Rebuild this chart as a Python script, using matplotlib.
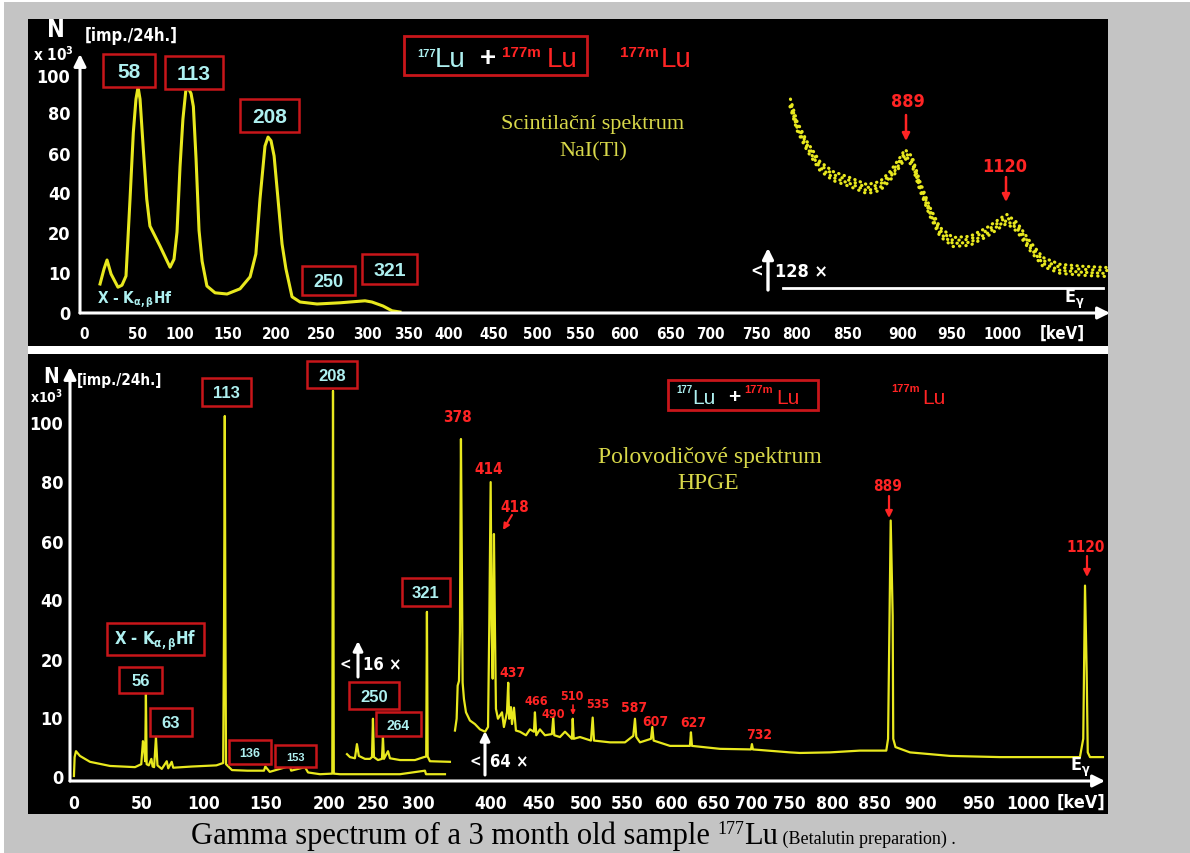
import numpy as np
import matplotlib
matplotlib.use("Agg")
import matplotlib.pyplot as plt
from matplotlib.patches import Rectangle, FancyArrowPatch
from matplotlib.lines import Line2D
from matplotlib.ticker import NullLocator
from matplotlib import transforms

plt.rcParams["font.family"] = ["DejaVu Sans"]
plt.rcParams["font.weight"] = "bold"
plt.rcParams["font.stretch"] = "condensed"
plt.rcParams["mathtext.fontset"] = "custom"
plt.rcParams["mathtext.rm"] = "DejaVu Sans:bold"
plt.rcParams["mathtext.it"] = "DejaVu Sans:bold"
plt.rcParams["mathtext.bf"] = "DejaVu Sans:bold"

# ---- data (energy in keV, counts in 10^3 imp./24h) ----
nai_ticks_kev = [0, 50, 100, 150, 200, 250, 300, 350, 400, 450, 500, 550,
                 600, 650, 700, 750, 800, 850, 900, 950, 1000]
hpge_ticks_kev = [0, 50, 100, 150, 200, 250, 300, 400, 450, 500, 550,
                  600, 650, 700, 750, 800, 850, 900, 950, 1000]
count_ticks = [0, 10, 20, 40, 60, 80, 100]

# scintillation spectrum NaI(Tl)
nai_e = [15.1, 18.9, 21.7, 25.5, 32, 35.8, 39.6, 43.4, 46.5, 49, 51.2, 53.5,
         57.3, 61.3, 65, 76.7, 88.4, 93, 96.5, 100, 103, 106, 108.6, 111.5,
         113.9, 116.7, 119.8, 123, 128, 136.5, 149, 162.5, 173, 179, 183.3,
         188.5, 191.7, 194.8, 198, 202.2, 206.7, 211, 217.8, 226.7, 245.6,
         270.6, 297.8, 306, 319.5, 330.5, 340.2]
nai_n = [7.0, 10.8, 13.0, 9.5, 6.2, 6.7, 9.0, 36.5, 70, 87, 93.5, 87,
         62, 36.5, 23, 16.5, 11.2, 13.2, 20, 53, 76.5, 91.5, 93, 90,
         83, 57, 20.8, 12.7, 6.5, 4.8, 4.5, 5.8, 8.8, 14.5, 36.5,
         63.4, 67.8, 66, 58.5, 36.5, 17, 10.8, 3.8, 2.5, 2.0,
         2.3, 2.8, 2.5, 1.5, 0.3, 0.0]
# high energy part, magnified 128x
nai_x128_e = [792.5, 801, 810.8, 823.5, 836.3, 852.7, 867.9, 879.5, 888.4,
              897.3, 902, 909.2, 917.3, 927.6, 937.8, 951, 968, 985, 1001,
              1005, 1015, 1028, 1041, 1058, 1081, 1105]
nai_x128_n = [85.4, 73.2, 63.4, 53.3, 48.2, 45.1, 41.5, 43.1, 48.2,
              55.4, 59.5, 56, 43, 30, 20, 17.5, 17.8, 20, 25.5,
              26.5, 22.5, 16.5, 12.5, 10.8, 10.3, 10.0]

# semiconductor spectrum HPGe
hpge_e = [0, 0.5, 1.5, 4.4, 11.8, 26.5, 44.9, 49.5, 50.8, 51.6, 52.6, 53.2,
          53.8, 55.5, 57.6, 58.6, 59.8, 61.3, 62.5, 66, 70, 71.2, 74, 75.2,
          90, 110, 115.5, 116.2, 116.8, 117.3, 117.8, 122.6, 135, 148.4,
          149.5, 153, 169, 170, 181, 183.4, 192.9, 203.8, 204.3, 204.6,
          205.0, 205.5, 212.5, 280, 309.6, 311, 337]
hpge_n = [0, 3.2, 4.2, 3.4, 2.4, 1.7, 1.5, 2.0, 5.9, 5.0, 2.5, 13.9,
          2.0, 1.8, 2.9, 1.6, 1.5, 6.6, 1.8, 1.2, 2.5, 1.3, 2.4, 1.4,
          1.6, 1.8, 2.2, 32, 102, 32, 2.0, 1.0, 0.9, 0.9,
          1.6, 0.7, 1.7, 0.9, 1.5, 0.6, 0.3, 0.4, 65, 110.5,
          65, 0.4, 0.3, 0.3, 0.9, 0.3, 0.3]
# 16x magnified part
hpge_x16_e = [220.5, 223.9, 229.5, 231.8, 234, 240.9, 246.6, 248.9, 250, 251.1,
              255.6, 260, 261.1, 262.2, 266.7, 268.9, 280, 296.7, 308.2, 311.3,
              312.3, 313.3, 316.4, 343.8]
hpge_x16_n = [3.7, 3.2, 3.0, 5.4, 3.4, 2.9, 2.9, 3.2, 9.7, 3.2,
              2.7, 2.9, 6.6, 2.9, 4.2, 3.0, 2.7, 2.7, 3.2, 3.3,
              35.7, 3.3, 2.5, 2.4]
# 64x magnified part
hpge_x64_e = [350.7, 353, 354.4, 356.2, 357.5, 358.9, 360.3, 361.2, 363, 365.8,
              371.2, 378, 385, 392, 396, 397.7, 399.6, 400.7, 401.8, 403.1,
              404.2, 405.2, 407.3, 411.5, 413.5, 416.7, 418, 419, 420.8, 421.9,
              424, 426, 430.2, 436.5, 440.6, 444.8, 445.8, 447.2, 451, 456.4,
              463.8, 465.2, 466.3, 472.3, 477.7, 485.1, 485.9, 487, 493.6, 506.1,
              508.2, 509.8, 529.3, 547.6, 557.2, 559.1, 560.6, 564.8, 577.3, 578.8,
              580.3, 598.9, 622.6, 623.8, 625, 659.2, 700, 701.3, 702.6, 751.2,
              762.8, 797.7, 833.3, 863.1, 865, 867.8, 869.9, 870.5, 872.9, 888.3,
              925, 971.4, 1053, 1056.4, 1058.2, 1059.9, 1061, 1063.3, 1076.5]
hpge_x64_n = [7.7, 9.7, 15.4, 16.2, 29, 94.2, 46.9, 15.9, 13.1, 10.8,
              9.4, 8.8, 7.9, 7.5, 8.3, 31.1, 79.6, 31, 16.6, 62.3,
              28.9, 11.4, 9.7, 10.8, 8.3, 10.8, 15.9, 9.7, 11.7, 8.8,
              11.6, 7.7, 7.5, 6.9, 7.9, 7.5, 10.8, 6.9, 7.9, 6.9,
              7.1, 9.9, 6.9, 6.6, 7.5, 6.3, 9.7, 6.3, 6.6, 6.0,
              9.9, 6.0, 5.7, 5.7, 6.8, 9.7, 6.6, 5.7, 6.3, 8.3,
              6.0, 5.1, 5.1, 7.4, 5.1, 4.6, 4.5, 5.4, 4.5, 4.0,
              3.9, 4.0, 4.3, 4.3, 6.3, 66.8, 34.4, 6.3, 4.9, 4.0,
              3.4, 3.2, 3.2, 6.3, 44.6, 17.8, 4.0, 3.2, 3.2]

# ---- the axes of the original are hand drawn and not linear: knots of the warp ----
nai_x_knots = ([-50] + nai_ticks_kev + [1200],
               [31, 84, 137, 180, 228, 276, 321, 367, 408, 449, 494, 537, 580,
                624, 670, 710, 756, 796, 847, 903, 952, 1002, 1202])
nai_y_knots = ([-10, 0, 10, 20, 40, 60, 80, 100, 140],
               [-40, 0, 40, 80, 120, 159, 200, 237, 311])
hpge_x_knots = ([-50] + hpge_ticks_kev + [1200],
                [6, 74, 142, 204, 266, 329, 373, 418, 491, 539, 586, 627, 671,
                 713, 751, 789, 832, 874, 921, 979, 1028, 1224])
hpge_y_knots = ([-10, 0, 10, 20, 40, 60, 80, 100, 140],
                [-59, 0, 59, 117, 177, 235, 295, 354, 472])

YEL = "#e8e81e"
RED_BOX = "#c8161a"
RED_TXT = "#ff2424"
CYAN = "#aef0f0"
SERIF_YEL = "#d8d84a"
GRAY = "#c4c4c4"
SANS = ["Liberation Sans", "DejaVu Sans"]
SERIF = ["Liberation Serif", "DejaVu Serif"]

W, H = 1190, 854
fig = plt.figure(figsize=(W / 100, H / 100), dpi=100, facecolor=GRAY)


def warp(knots):
    v, p = np.asarray(knots[0], float), np.asarray(knots[1], float)
    return (lambda x: np.interp(x, v, p), lambda x: np.interp(x, p, v))


def prect(x0, y0, x1, y1, fc, ec="none", lw=0, z=-1):
    fig.add_artist(Rectangle((x0 / W, 1 - y1 / H), (x1 - x0) / W, (y1 - y0) / H,
                             transform=fig.transFigure, fc=fc, ec=ec, lw=lw, zorder=z))


def ptext(x, y, s, **kw):
    kw.setdefault("ha", "center")
    kw.setdefault("va", "center")
    kw.setdefault("color", "white")
    return fig.text(x / W, 1 - y / H, s, zorder=6, **kw)


def parrow(x0, y0, x1, y1, color="white", lw=2.2, ms=14):
    fig.add_artist(FancyArrowPatch(
        (x0 / W, 1 - y0 / H), (x1 / W, 1 - y1 / H), transform=fig.transFigure,
        arrowstyle="-|>", mutation_scale=ms, color=color, lw=lw, zorder=6,
        shrinkA=0, shrinkB=0))


def pbox(s, x0, y0, x1, y1, size, family=SANS, stretch="normal"):
    prect(x0, y0, x1, y1, fc="black", ec=RED_BOX, lw=1.8, z=5)
    ptext((x0 + x1) / 2, (y0 + y1) / 2 + 1, s, color=CYAN, size=size,
          family=family, stretch=stretch)


# frame, panels
prect(0, 0, W, 3, "white", z=-2)
prect(0, 0, 4, H, "white", z=-2)
prect(28, 20, 1108, 347, "black")
prect(28, 347, 1108, 355, "white")
prect(28, 355, 1108, 815, "black")


def make_axes(rect, xk, yk, xlim, ylim, ticks, xsize, ysize, ypad):
    x0, y0, x1, y1 = rect
    ax = fig.add_axes([x0 / W, 1 - y1 / H, (x1 - x0) / W, (y1 - y0) / H])
    ax.set_facecolor("none")
    ax.set_xscale("function", functions=warp(xk))
    ax.set_yscale("function", functions=warp(yk))
    ax.set_xlim(*xlim)
    ax.set_ylim(*ylim)
    ax.set_xticks(ticks)
    ax.set_xticklabels([str(t) for t in ticks])
    ax.set_yticks(count_ticks)
    ax.set_yticklabels([str(t) for t in count_ticks])
    ax.xaxis.set_minor_locator(NullLocator())
    ax.yaxis.set_minor_locator(NullLocator())
    ax.tick_params(axis="x", length=0, pad=9.5, labelsize=xsize, labelcolor="white")
    ax.tick_params(axis="y", length=0, pad=ypad, labelsize=ysize, labelcolor="white")
    for s in ax.spines.values():
        s.set_visible(False)
    arr = dict(arrowstyle="-|>", color="white", lw=2.2, mutation_scale=18,
               shrinkA=0, shrinkB=0)
    ax.annotate("", xy=(1, 0), xytext=(0, 0), xycoords="axes fraction",
                arrowprops=arr, annotation_clip=False)
    ax.annotate("", xy=(0, 1), xytext=(0, 0), xycoords="axes fraction",
                arrowprops=arr, annotation_clip=False)
    return ax


# ---------------- top panel: NaI(Tl) ----------------
ax1 = make_axes((80, 55, 1110, 314), nai_x_knots, nai_y_knots,
                (-3.8, 1108), (-0.25, 111.4), nai_ticks_kev, 11, 13, 7)
ax1.plot(nai_e, nai_n, color=YEL, lw=2.2, solid_joinstyle="round")
# the magnified part is drawn as a scattered band of dots
for dy, off, gap in [(-4.5, 0.0, 1.9), (-1.5, 0.9, 1.6), (1.5, 0.4, 2.1), (4.5, 1.3, 1.7)]:
    tr = transforms.offset_copy(ax1.transData, fig=fig, x=0, y=dy, units="dots")
    ax1.plot(nai_x128_e, nai_x128_n, transform=tr, color=YEL, lw=2.3,
             ls=(off, (0.1, gap)), dash_capstyle="round")

ptext(56, 30, "N", size=17)
ptext(85, 36, "[imp./24h.]", ha="left", size=12)
ptext(33, 55, "x 10$^3$", ha="left", size=11)
ptext(97, 300, r"X - K$_{\alpha,\beta}$Hf", ha="left", size=11, color=CYAN)
ptext(1062, 334, "[keV]", size=12)
ptext(1074, 299, r"E$_\gamma$", size=13)

for s, x0, y0, x1, y1, sz in [("58", 103, 55, 155, 88, 15), ("113", 165, 57, 223, 90, 15),
                              ("208", 240, 100, 299, 133, 15), ("250", 302, 267, 355, 296, 13),
                              ("321", 362, 255, 417, 285, 14)]:
    pbox(s, x0, y0, x1, y1, sz)

# title box
prect(404, 37, 587, 76, fc="black", ec=RED_BOX, lw=2, z=5)
ptext(417, 57, "177", ha="left", va="baseline", color=CYAN, size=8, family=SANS)
ptext(435, 67, "Lu", ha="left", va="baseline", color=CYAN, size=20, weight="normal", family=SANS)
ptext(488, 66, "+", va="baseline", size=20, family=SANS)
ptext(502, 57, "177m", ha="left", va="baseline", color=RED_TXT, size=11, family=SANS)
ptext(547, 67, "Lu", ha="left", va="baseline", color=RED_TXT, size=20, weight="normal", family=SANS)
ptext(620, 57, "177m", ha="left", va="baseline", color=RED_TXT, size=11, family=SANS)
ptext(661, 67, "Lu", ha="left", va="baseline", color=RED_TXT, size=20, weight="normal", family=SANS)

ptext(593, 125, "Scintilační spektrum", color=SERIF_YEL, size=16, weight="normal",
      family=SERIF, stretch="normal")
ptext(593, 152, "NaI(Tl)", color=SERIF_YEL, size=16, weight="normal", family=SERIF,
      stretch="normal")

ptext(908, 102, "889", color=RED_TXT, size=13)
parrow(906, 116, 906, 142, color=RED_TXT, lw=1.8, ms=11)
ptext(1005, 167, "1120", color=RED_TXT, size=13)
parrow(1006, 178, 1006, 203, color=RED_TXT, lw=1.8, ms=11)

parrow(768, 291, 768, 249, lw=2.4, ms=16)
ptext(757, 272, "<", size=12)
ptext(775, 272, "128 ×", ha="left", size=13)
fig.add_artist(Line2D([783 / W, 1103 / W], [1 - 289 / H] * 2, transform=fig.transFigure,
                      color="white", lw=2, zorder=6))

# ---------------- bottom panel: HPGe ----------------
ax2 = make_axes((70, 368, 1105, 782), hpge_x_knots, hpge_y_knots,
                (-2.9, 1078.6), (-0.85, 118.6), hpge_ticks_kev, 12.5, 13, 5)
ax2.plot(hpge_e, hpge_n, color=YEL, lw=1.6)
ax2.plot(hpge_x16_e, hpge_x16_n, color=YEL, lw=1.6)
ax2.plot(hpge_x64_e, hpge_x64_n, color=YEL, lw=1.6)

ptext(51, 377, "N", size=15)
ptext(77, 381, "[imp./24h.]", ha="left", size=11)
ptext(30, 397, "x10$^3$", ha="left", size=10)
ptext(1081, 803, "[keV]", size=13)
ptext(1080, 767, r"E$_\gamma$", size=13)

for s, x0, y0, x1, y1, sz in [("113", 202, 379, 251, 407, 12), ("208", 307, 362, 357, 389, 12),
                              ("321", 402, 579, 450, 607, 12), ("56", 119, 668, 162, 694, 12),
                              ("63", 150, 709, 192, 737, 12), ("136", 229, 741, 271, 765, 9),
                              ("153", 275, 746, 316, 768, 8), ("250", 349, 683, 399, 710, 12),
                              ("264", 376, 713, 421, 737, 10)]:
    pbox(s, x0, y0, x1, y1, sz)
pbox(r"X - K$_{\alpha,\beta}$Hf", 107, 624, 204, 656, 12, family=["DejaVu Sans"],
     stretch="condensed")

prect(668, 381, 818, 411, fc="black", ec=RED_BOX, lw=2, z=5)
ptext(676, 393, "177", ha="left", va="baseline", color=CYAN, size=7, family=SANS)
ptext(692, 404, "Lu", ha="left", va="baseline", color=CYAN, size=15, weight="normal", family=SANS)
ptext(734, 403, "+", va="baseline", size=15, family=SANS)
ptext(744, 393, "177m", ha="left", va="baseline", color=RED_TXT, size=8, family=SANS)
ptext(776, 404, "Lu", ha="left", va="baseline", color=RED_TXT, size=15, weight="normal", family=SANS)
ptext(891, 392, "177m", ha="left", va="baseline", color=RED_TXT, size=8, family=SANS)
ptext(922, 404, "Lu", ha="left", va="baseline", color=RED_TXT, size=15, weight="normal", family=SANS)

ptext(710, 458, "Polovodičové spektrum", color=SERIF_YEL, size=17, weight="normal",
      family=SERIF, stretch="normal")
ptext(708, 484, "HPGE", color=SERIF_YEL, size=17, weight="normal", family=SERIF,
      stretch="normal")

for s, x, y, sz in [("378", 457, 418, 11), ("414", 489, 470, 11), ("418", 515, 508, 11),
                    ("437", 513, 673, 10), ("466", 536, 702, 9), ("490", 553, 714, 9),
                    ("510", 572, 697, 9), ("535", 598, 705, 9), ("587", 634, 708, 10),
                    ("607", 655, 722, 10), ("627", 693, 723, 10), ("732", 759, 735, 10),
                    ("889", 888, 487, 11), ("1120", 1086, 547, 11)]:
    ptext(x, y, s, color=RED_TXT, size=sz)
parrow(512, 516, 503, 531, color=RED_TXT, lw=1.5, ms=9)
parrow(573, 706, 573, 716, color=RED_TXT, lw=1.2, ms=6)
parrow(889, 497, 889, 519, color=RED_TXT, lw=1.6, ms=10)
parrow(1087, 557, 1087, 578, color=RED_TXT, lw=1.6, ms=10)

parrow(358, 678, 358, 642, lw=2.2, ms=14)
ptext(345, 665, "<", size=11)
ptext(363, 665, "16 ×", ha="left", size=12)
parrow(485, 776, 485, 732, lw=2.2, ms=14)
ptext(475, 762, "<", size=11)
ptext(490, 762, "64 ×", ha="left", size=12)

# ---------------- caption ----------------
renderer = fig.canvas.get_renderer()
parts = [("Gamma spectrum of a 3 month old sample ", 22, 0),
         ("177", 13, 10), ("Lu", 22, 0), (" (Betalutin preparation) .", 13, 0)]
x = 191
for s, sz, rise in parts:
    t = ptext(x, 844 - rise, s, ha="left", va="baseline", color="black", size=sz,
              weight="normal", family=SERIF, stretch="normal")
    x = t.get_window_extent(renderer).x1

fig.savefig("out.png", dpi=100, facecolor=GRAY)
